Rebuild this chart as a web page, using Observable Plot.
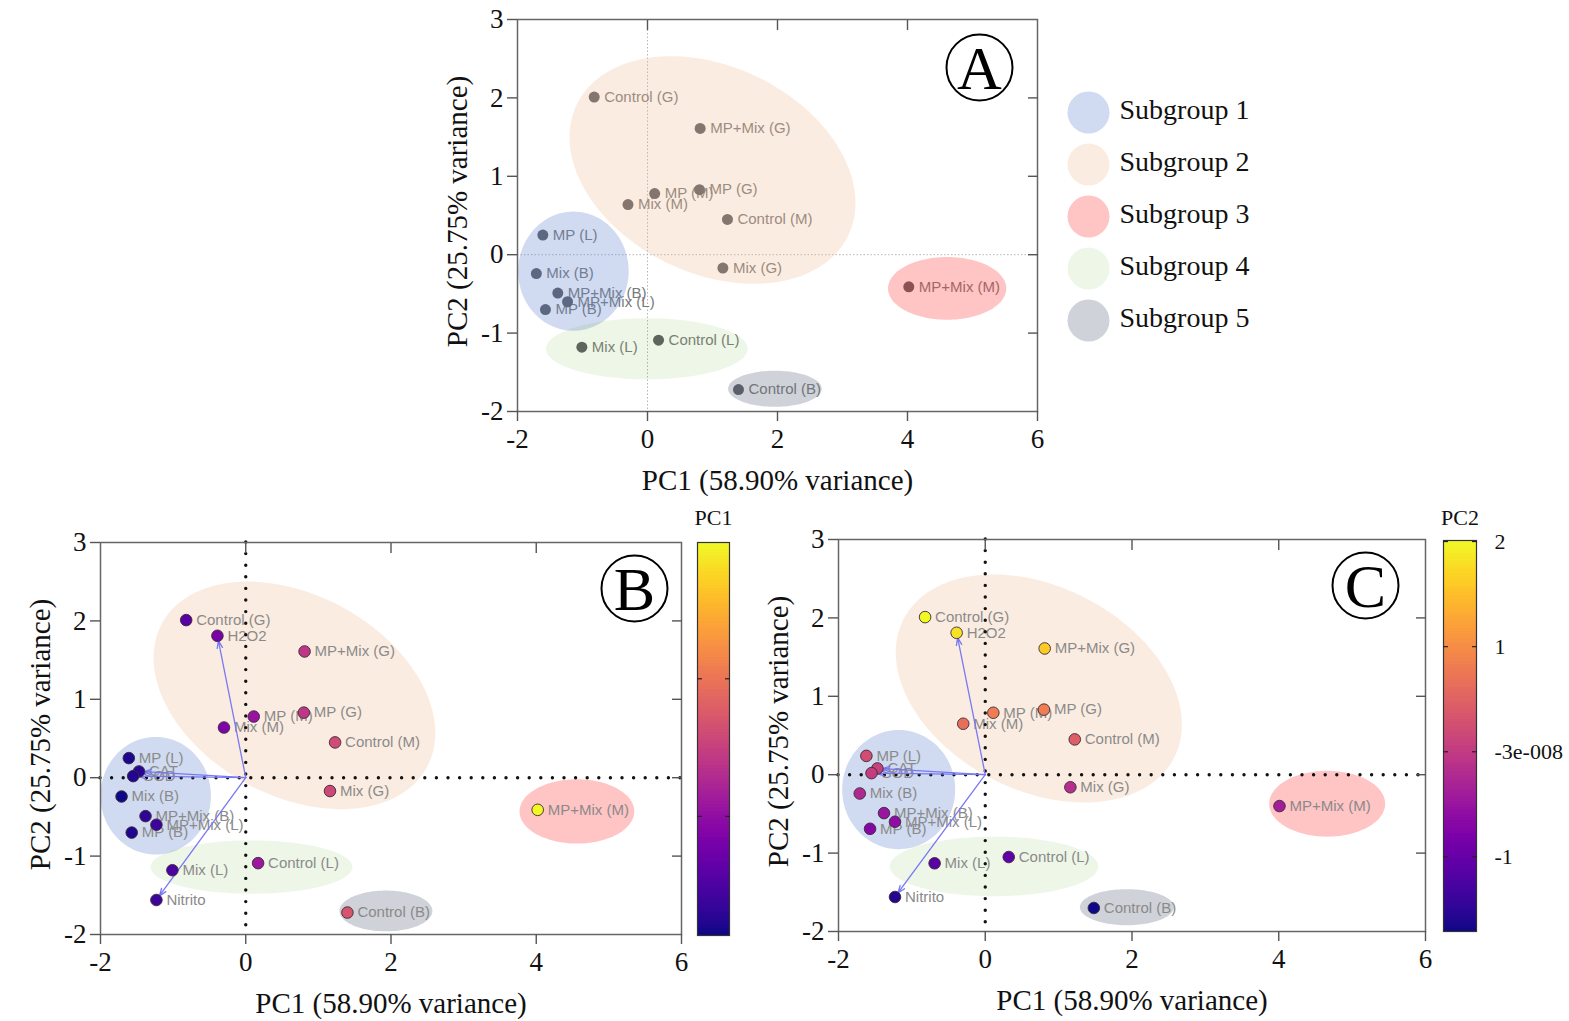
<!DOCTYPE html>
<html>
<head>
<meta charset="utf-8">
<script src="https://cdn.jsdelivr.net/npm/d3@7"></script>
<script src="https://cdn.jsdelivr.net/npm/@observablehq/plot@0.6"></script>
<style>
  body { margin: 0; background: #fff; }
  #page { position: relative; width: 1569px; height: 1021px; overflow: hidden; background: #fff; }
  .abs { position: absolute; }
  .abs svg { overflow: visible; }
</style>
</head>
<body>
<div id="page"></div>
<script>
// ---------------- DATA ----------------
const samples = ["Control (G)", "MP+Mix (G)", "MP (M)", "MP (G)", "Mix (M)", "Control (M)", "Mix (G)", "MP (L)",
                 "Mix (B)", "MP+Mix (B)", "MP+Mix (L)", "MP (B)", "Mix (L)", "Control (L)", "Control (B)", "MP+Mix (M)"];
// PC scores (panels A and B)
const pc1 = [-0.82, 0.81, 0.11, 0.80, -0.30, 1.23, 1.16, -1.61, -1.71, -1.38, -1.23, -1.57, -1.01, 0.17, 1.40, 4.02];
const pc2 = [2.01, 1.61, 0.78, 0.83, 0.64, 0.45, -0.17, 0.25, -0.24, -0.49, -0.60, -0.70, -1.18, -1.09, -1.72, -0.41];
// PC scores as printed in panel C
const pc1C = [-0.82, 0.81, 0.11, 0.80, -0.30, 1.22, 1.16, -1.62, -1.71, -1.38, -1.23, -1.57, -0.69, 0.32, 1.48, 4.01];
const pc2C = [2.01, 1.61, 0.79, 0.83, 0.65, 0.45, -0.16, 0.24, -0.24, -0.49, -0.60, -0.69, -1.13, -1.05, -1.70, -0.40];

// variable loadings (biplot arrows)
const variables = ["H2O2", "Nitrito", "CAT", "SOD"];
const loadPC1 = [-0.39, -1.23, -1.47, -1.55];
const loadPC2 = [1.81, -1.56, 0.08, 0.02];

// subgroups
const subgroups = ["Subgroup 1", "Subgroup 2", "Subgroup 3", "Subgroup 4", "Subgroup 5"];
const subgroupFill = ["#6284cd", "#f1bb94", "#ff3a3a", "#71b43f", "#5f697d"];
const subgroupOpacity = [0.30, 0.28, 0.30, 0.12, 0.30];

// subgroup ellipses per panel (centre, semi-axes, shear) in PC units
const ellCxA = [-1.14, 1.00, 4.61, -0.01, 1.96];
const ellCyA = [-0.21, 1.08, -0.43, -1.20, -1.71];
const ellRxA = [0.85, 2.20, 0.91, 1.55, 0.72];
const ellRyA = [0.76, 1.39, 0.40, 0.39, 0.23];
const ellSkA = [0, -0.42, 0, 0, 0];

const ellCxB = [-1.24, 0.67, 4.56, 0.08, 1.93];
const ellCyB = [-0.23, 1.05, -0.43, -1.14, -1.70];
const ellRxB = [0.76, 1.94, 0.79, 1.39, 0.64];
const ellRyB = [0.75, 1.37, 0.41, 0.34, 0.26];
const ellSkB = [0, -0.48, 0, 0, 0];

const ellCxC = [-1.18, 0.73, 4.66, 0.12, 1.93];
const ellCyC = [-0.19, 1.10, -0.37, -1.17, -1.69];
const ellRxC = [0.77, 1.95, 0.79, 1.42, 0.64];
const ellRyC = [0.76, 1.38, 0.42, 0.38, 0.23];
const ellSkC = [0, -0.46, 0, 0, 0];

// axes
const xTicks = [-2, 0, 2, 4, 6];
const yTicks = [-2, -1, 0, 1, 2, 3];
const xTitle = "PC1 (58.90% variance)";
const yTitle = "PC2 (25.75% variance)";

// colour bars
const pc1BarDomain = [-1.73, 3.98];
const pc1BarTicks = [0, 2];
const pc2BarDomain = [-1.71, 2.01];
const pc2BarTicks = [-1, 0, 1, 2];
const pc2BarLabels = ["-1", "-3e-008", "1", "2"];

// ---------------- HELPERS ----------------
const SERIF = "'Liberation Serif', 'Times New Roman', serif";
const SANS = "'Liberation Sans', Arial, sans-serif";
const page = document.getElementById("page");

function place(node, left, top) {
  const d = document.createElement("div");
  d.className = "abs";
  d.style.left = left + "px";
  d.style.top = top + "px";
  d.appendChild(node);
  page.appendChild(d);
}

function ellipseRing(cx, cy, rx, ry, sk) {
  return d3.range(0, 360, 3).map(deg => {
    const t = deg * Math.PI / 180;
    return {x: cx + rx * Math.cos(t), y: cy + ry * Math.sin(t) + sk * Math.cos(t)};
  });
}

function ellipseMarks(cx, cy, rx, ry, sk) {
  return cx.map((c, i) => Plot.line(ellipseRing(c, cy[i], rx[i], ry[i], sk[i]), {
    x: "x", y: "y", curve: "linear-closed", stroke: "none",
    fill: subgroupFill[i], fillOpacity: subgroupOpacity[i]
  }));
}

function frameAndAxes() {
  const tickStyle = {stroke: "#555", strokeWidth: 1.4, label: null};
  return [
    Plot.frame({stroke: "#666", strokeWidth: 1.5}),
    Plot.axisX({...tickStyle, ticks: xTicks, tickSize: 10, tickPadding: 7, fontSize: 27,
                fontFamily: SERIF, fill: "#111", tickFormat: d => String(d)}),
    Plot.axisY({...tickStyle, ticks: yTicks, tickSize: 10, tickPadding: 4, fontSize: 27,
                fontFamily: SERIF, fill: "#111", tickFormat: d => String(d)}),
    Plot.axisX({...tickStyle, anchor: "top", ticks: xTicks.slice(1, -1), tickSize: -10, tickFormat: () => ""}),
    Plot.axisY({...tickStyle, anchor: "right", ticks: yTicks.slice(1, -1), tickSize: -10, tickFormat: () => ""}),
    Plot.text([xTitle], {text: d => d, frameAnchor: "bottom", textAnchor: "middle", lineAnchor: "middle",
                         dy: 69, fontSize: 29, fontFamily: SERIF, fill: "#111"}),
    Plot.text([yTitle], {text: d => d, frameAnchor: "left", textAnchor: "middle", lineAnchor: "middle",
                         dx: -60, dy: -4, rotate: -90, fontSize: 29, fontFamily: SERIF, fill: "#111"})
  ];
}

function letterMarks(letter, dx, dy) {
  return [
    Plot.dot([letter], {frameAnchor: "top-right", dx, dy, r: 33, stroke: "#000", strokeWidth: 2, fill: "#fff"}),
    Plot.text([letter], {text: d => d, frameAnchor: "top-right", textAnchor: "middle", lineAnchor: "middle",
                         dx, dy: dy + 2, fontSize: 62, fontFamily: SERIF, fill: "#000"})
  ];
}

// ---------------- PANEL A ----------------
const rowsA = samples.map((n, i) => ({name: n, x: pc1[i], y: pc2[i]}));
const panelA = Plot.plot({
  width: 620, height: 500,
  marginLeft: 87, marginRight: 13, marginTop: 19, marginBottom: 89,
  x: {domain: [-2, 6]}, y: {domain: [-2, 3]},
  style: {fontFamily: SERIF, background: "transparent"},
  marks: [
    Plot.ruleY([0], {stroke: "#b5b5b5", strokeWidth: 1, strokeDasharray: "1.5,2"}),
    Plot.ruleX([0], {stroke: "#b5b5b5", strokeWidth: 1, strokeDasharray: "1.5,2"}),
    Plot.text(rowsA, {x: "x", y: "y", text: "name", dx: 10, textAnchor: "start", fontSize: 15, fontFamily: SANS, fill: "#7a7a7a"}),
    Plot.dot(rowsA, {x: "x", y: "y", r: 5.5, fill: "#5a5b60"}),
    ...ellipseMarks(ellCxA, ellCyA, ellRxA, ellRyA, ellSkA),
    ...frameAndAxes(),
    ...letterMarks("A", -58, 48)
  ]
});
place(panelA, 430, 0);

// ---------------- LEGEND ----------------
const legend = Plot.plot({
  width: 220, height: 271, marginTop: 30, marginBottom: 30, marginLeft: 0, marginRight: 0,
  y: {type: "point", domain: subgroups, padding: 0, axis: null},
  style: {fontFamily: SERIF, background: "transparent"},
  marks: [
    ...subgroups.map((s, i) => Plot.dot([s], {y: d => d, frameAnchor: "left", dx: 28, r: 21,
                                              fill: subgroupFill[i], fillOpacity: subgroupOpacity[i]})),
    Plot.text(subgroups, {y: d => d, text: d => d, frameAnchor: "left", dx: 59, dy: -2, textAnchor: "start",
                          lineAnchor: "middle", fontSize: 28, fontFamily: SERIF, fill: "#111"})
  ]
});
place(legend, 1060, 80);

// ---------------- BIPLOTS (B, C) ----------------
function biplot({xs, ys, colorBy, domain, ell, letter, ldx, ldy, width, mL, mR, mT, mB}) {
  const rows = samples.map((n, i) => ({name: n, x: xs[i], y: ys[i]}))
    .concat(variables.map((n, i) => ({name: n, x: loadPC1[i], y: loadPC2[i]})));
  const vars = variables.map((n, i) => ({name: n, x: loadPC1[i], y: loadPC2[i]}));
  return Plot.plot({
    width, height: 521, marginLeft: mL, marginRight: mR, marginTop: mT, marginBottom: mB,
    x: {domain: [-2, 6]}, y: {domain: [-2, 3]},
    color: {type: "linear", scheme: "plasma", domain, clamp: true},
    style: {fontFamily: SERIF, background: "transparent"},
    marks: [
      ...ellipseMarks(...ell),
      Plot.text(rows, {x: "x", y: "y", text: "name", dx: 10, textAnchor: "start", fontSize: 15, fontFamily: SANS, fill: "#8a8a8a"}),
      Plot.ruleY([0], {stroke: "#111", strokeWidth: 3.4, strokeDasharray: "0,11.6", strokeLinecap: "round"}),
      Plot.ruleX([0], {stroke: "#111", strokeWidth: 3.4, strokeDasharray: "0,11.6", strokeLinecap: "round"}),
      Plot.arrow(vars, {x1: () => 0, y1: () => 0, x2: "x", y2: "y", stroke: "#7878f4", strokeWidth: 1.3,
                        headLength: 9, headAngle: 40, insetEnd: 5}),
      Plot.dot(rows, {x: "x", y: "y", r: 5.8, fill: colorBy, stroke: "#3a2a3a", strokeWidth: 0.9}),
      ...frameAndAxes(),
      ...letterMarks(letter, ldx, ldy)
    ]
  });
}

function colorbar({domain, ticks, labels, title, width, mL, mR, mT, mB, titleDy}) {
  const [lo, hi] = domain;
  const n = 120, step = (hi - lo) / n;
  const slices = d3.range(n).map(i => lo + i * step);
  const tickStyle = {stroke: "#222", strokeWidth: 1.2, label: null, tickFormat: () => ""};
  return Plot.plot({
    width, height: 460, marginLeft: mL, marginRight: mR, marginTop: mT, marginBottom: mB,
    x: {domain: [0, 1], axis: null},
    y: {domain: [lo, hi], axis: null},
    color: {type: "linear", scheme: "plasma", domain: [lo, hi]},
    style: {fontFamily: SERIF, background: "transparent"},
    marks: [
      Plot.rect(slices, {x1: () => 0, x2: () => 1, y1: d => d, y2: d => Math.min(hi, d + step * 2.5),
                         fill: d => d + step / 2, shapeRendering: "crispEdges"}),
      Plot.frame({stroke: "#333", strokeWidth: 1.2}),
      Plot.axisY({...tickStyle, anchor: "left", ticks, tickSize: -5}),
      Plot.axisY({...tickStyle, anchor: "right", ticks, tickSize: -5}),
      labels ? Plot.axisY({anchor: "right", ticks, tickSize: 0, tickPadding: 18, label: null, fontSize: 22,
                           fontFamily: SERIF, fill: "#111", tickFormat: d => labels[ticks.indexOf(d)]}) : null,
      Plot.text([title], {text: d => d, frameAnchor: "top", textAnchor: "middle", lineAnchor: "middle",
                          dy: titleDy, fontSize: 22, fontFamily: SERIF, fill: "#111"})
    ]
  });
}

const panelB = biplot({
  xs: pc1, ys: pc2, colorBy: "x", domain: pc1BarDomain,
  ell: [ellCxB, ellCyB, ellRxB, ellRyB, ellSkB], letter: "B", ldx: -47, ldy: 46,
  width: 690, mL: 100, mR: 9, mT: 42, mB: 87
});
place(panelB, 0, 500);

const barB = colorbar({domain: pc1BarDomain, ticks: pc1BarTicks, labels: null, title: "PC1",
                       width: 60, mL: 7, mR: 21, mT: 42, mB: 25, titleDy: -25});
place(barB, 690, 500);

const panelC = biplot({
  xs: pc1C, ys: pc2C, colorBy: "y", domain: pc2BarDomain,
  ell: [ellCxC, ellCyC, ellRxC, ellRyC, ellSkC], letter: "C", ldx: -60, ldy: 46,
  width: 672, mL: 78, mR: 7, mT: 39, mB: 90
});
place(panelC, 760, 500);

const barC = colorbar({domain: pc2BarDomain, ticks: pc2BarTicks, labels: pc2BarLabels, title: "PC2",
                       width: 133, mL: 7, mR: 93, mT: 40, mB: 29, titleDy: -23});
place(barC, 1436, 500);
</script>
</body>
</html>
